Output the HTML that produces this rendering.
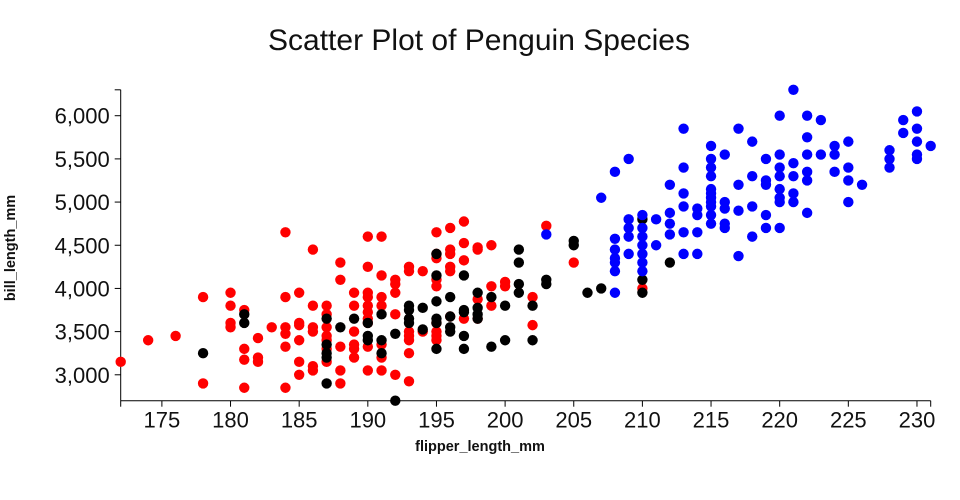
<!DOCTYPE html>
<html><head><meta charset="utf-8">
<style>
html,body{margin:0;padding:0;background:#fff;}
svg{display:block;font-family:"Liberation Sans","DejaVu Sans",sans-serif;}
</style></head>
<body>
<svg id="chart" width="960" height="500" viewBox="0 0 960 500" xmlns="http://www.w3.org/2000/svg">
<text x="479" y="50" text-anchor="middle" font-size="30" fill="#111">Scatter Plot of Penguin Species</text>
<g id="axes"></g>
<g id="points"></g>
<text x="480" y="451" text-anchor="middle" font-size="14.5" font-weight="bold" fill="#111">flipper_length_mm</text>
<text transform="translate(15,248) rotate(-90)" text-anchor="middle" font-size="14.5" font-weight="bold" fill="#111">bill_length_mm</text>
</svg>
<script>
const xTicks = [175,180,185,190,195,200,205,210,215,220,225,230];
const yTicks = [3000,3500,4000,4500,5000,5500,6000];
const xDomain = [172,231];
const yDomain = [2700,6300];
const adelie = [[172,3150],[174,3400],[176,3450],[178,3900],[178,2900],[180,3950],[180,3800],[180,3600],[180,3550],[181,3750],[181,3300],[181,3175],[181,2850],[182,3425],[182,3200],[182,3150],[183,3550],[184,4650],[184,3900],[184,3550],[184,3475],[184,3325],[184,2850],[185,3950],[185,3600],[185,3575],[185,3400],[185,3150],[185,3000],[186,4450],[186,3800],[186,3550],[186,3500],[186,3100],[186,3050],[187,3800],[187,3700],[187,3550],[187,3450],[187,3400],[187,3300],[187,3150],[188,4300],[188,4100],[188,3325],[188,3050],[188,2900],[189,3950],[189,3800],[189,3500],[189,3350],[189,3300],[189,3200],[190,4600],[190,4250],[190,3950],[190,3900],[190,3800],[190,3725],[190,3650],[190,3600],[190,3325],[190,3050],[191,4600],[191,4150],[191,3900],[191,3800],[191,3350],[191,3200],[191,3050],[192,4100],[192,4050],[192,3950],[192,3700],[192,3000],[193,4250],[193,4200],[193,3500],[193,3450],[193,3400],[193,3250],[193,2925],[194,4200],[194,3500],[195,4650],[195,4400],[195,4350],[195,4100],[195,4025],[195,3600],[195,3500],[195,3450],[195,3400],[196,4700],[196,4450],[196,4400],[196,4250],[196,4200],[196,3675],[197,4775],[197,4525],[197,4325],[197,3650],[198,4475],[198,4450],[198,3875],[198,3650],[199,4500],[199,4025],[199,3800],[200,4075],[200,4025],[202,3900],[202,3575],[203,4725],[205,4300],[210,4000]];
const chinstrap = [[178,3250],[181,3700],[181,3600],[187,3650],[187,3350],[187,3250],[187,3200],[187,2900],[188,3550],[189,3650],[190,3600],[190,3450],[190,3400],[191,3700],[191,3400],[191,3250],[192,3475],[192,2700],[193,3800],[193,3750],[193,3650],[193,3600],[194,3775],[194,3525],[195,4400],[195,4150],[195,3850],[195,3650],[195,3600],[195,3300],[196,3900],[196,3675],[196,3550],[196,3500],[197,4150],[197,3750],[197,3725],[197,3450],[197,3300],[198,3950],[198,3775],[198,3700],[198,3650],[199,3900],[199,3325],[200,3800],[200,3400],[201,4450],[201,4300],[201,4050],[201,3950],[202,3800],[202,3400],[203,4100],[203,4050],[205,4550],[205,4500],[206,3950],[207,4000],[210,4800],[210,4100],[210,3950],[212,4300]];
const gentoo = [[221,6300],[220,6000],[222,6000],[223,5950],[230,6050],[229,5950],[230,5850],[229,5800],[230,5700],[231,5650],[230,5550],[230,5500],[213,5850],[217,5850],[218,5700],[215,5650],[216,5550],[222,5750],[224,5650],[225,5700],[224,5550],[223,5550],[222,5550],[220,5550],[219,5500],[221,5450],[220,5400],[220,5300],[221,5300],[222,5350],[222,5250],[224,5350],[225,5400],[225,5250],[226,5200],[228,5600],[228,5500],[228,5400],[209,5500],[208,5350],[207,5050],[213,5400],[215,5500],[215,5400],[215,5300],[217,5200],[218,5300],[219,5250],[219,5200],[220,5150],[220,5050],[220,5000],[221,5100],[221,5000],[222,4875],[225,5000],[212,5200],[213,5100],[215,5150],[215,5100],[215,5050],[215,5000],[215,4950],[216,5000],[216,4925],[213,4950],[214,4925],[214,4850],[215,4850],[215,4750],[216,4750],[216,4700],[217,4900],[218,4950],[219,4850],[219,4700],[220,4700],[218,4600],[217,4375],[212,4875],[212,4750],[212,4625],[211,4800],[211,4500],[213,4650],[214,4650],[213,4400],[214,4400],[209,4800],[209,4700],[209,4600],[209,4400],[208,4575],[208,4450],[208,4350],[208,4300],[208,4200],[208,3950],[210,4850],[210,4700],[210,4600],[210,4500],[210,4400],[210,4300],[210,4200],[203,4625]];

const NS='http://www.w3.org/2000/svg';
const X0=120.7,X1=930.7,Y0=400.7,Y1=89.8;
function sx(v){return X0+(v-xDomain[0])/(xDomain[1]-xDomain[0])*(X1-X0);}
function sy(v){return Y0-(v-yDomain[0])/(yDomain[1]-yDomain[0])*(Y0-Y1);}
function mk(tag,attrs,parent){const e=document.createElementNS(NS,tag);for(const k in attrs)e.setAttribute(k,attrs[k]);parent.appendChild(e);return e;}
const axes=document.getElementById('axes');
const xl=mk('line',{x1:X0,x2:X1,y1:Y0,y2:Y0,stroke:'#000','stroke-width':1},axes);


const yl=mk('line',{x1:X0,x2:X0,y1:Y1,y2:Y0,stroke:'#000','stroke-width':1},axes);


[xDomain[0],xDomain[1]].forEach(v=>{const t=mk('line',{x1:sx(v),x2:sx(v),y1:Y0,y2:Y0+6,stroke:'#000'},axes);

});
const tt=mk('line',{x1:X0-6,x2:X0,y1:Y1,y2:Y1,stroke:'#000'},axes);


xTicks.forEach(v=>{const x=sx(v);
const t=mk('line',{x1:x,x2:x,y1:Y0,y2:Y0+6,stroke:'#000'},axes);


const l=mk('text',{x:x,y:Y0+27,'text-anchor':'middle','font-size':22,fill:'#111'},axes);


l.textContent=String(v);});
yTicks.forEach(v=>{const y=sy(v);
const t=mk('line',{x1:X0-6,x2:X0,y1:y,y2:y,stroke:'#000'},axes);


const l=mk('text',{x:X0-11,y:y+8,'text-anchor':'end','font-size':22,fill:'#111'},axes);


l.textContent=v.toLocaleString('en-US');});
const pts=document.getElementById('points');
function draw(arr,color,name){arr.forEach(d=>{const c=mk('circle',{cx:sx(d[0]),cy:sy(d[1]),r:5.2,fill:color},pts);

});}
draw(adelie,'#ff0000','adelie-point');
draw(chinstrap,'#000000','chinstrap-point');
draw(gentoo,'#0000ff','gentoo-point');
</script>
</body></html>
